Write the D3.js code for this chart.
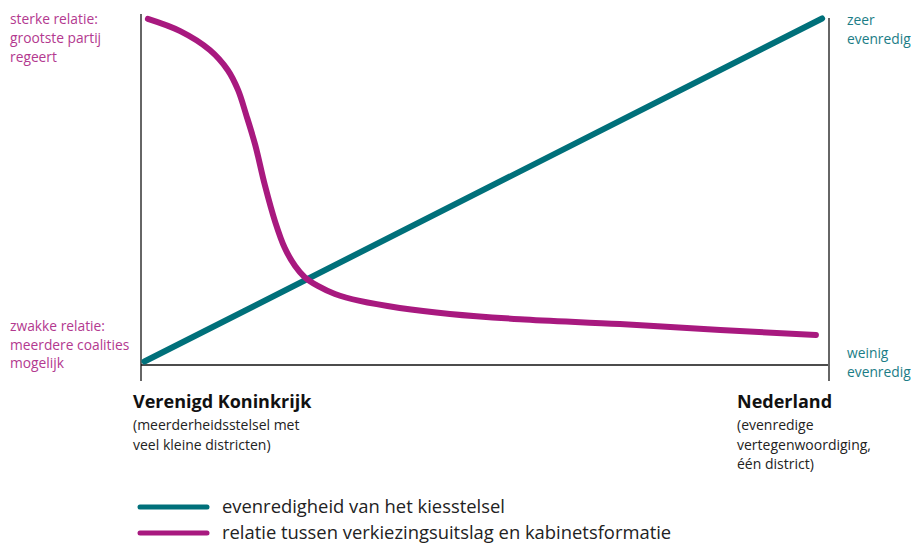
<!DOCTYPE html>
<html>
<head>
<meta charset="utf-8">
<script src="https://cdn.jsdelivr.net/npm/d3@7"></script>
<style>
  body { margin: 0; background: #fff; }
  text { font-family: "Open Sans", "Noto Sans", sans-serif; }
</style>
</head>
<body>
<div id="chart"></div>
<script>
// --- Data ---
const tealPoints = [[0.5, 1], [99, 99]];
const magentaX = [1, 5.7, 10.0, 12.6, 14.1, 15.3, 16.6, 18.0, 19.5, 20.9, 22.4, 23.8, 25.7, 28.2, 31.8, 37.6, 44.9, 55.1, 69.6, 84.2, 98.1];
const magentaY = [98.9, 95.4, 90.0, 84.3, 78.6, 71.4, 62.9, 51.4, 40.9, 33.4, 28.3, 25.1, 22.6, 20.3, 18.3, 16.3, 14.6, 13.1, 11.7, 10.0, 8.6];
const leftTop = ["sterke relatie:", "grootste partij", "regeert"];
const leftBottom = ["zwakke relatie:", "meerdere coalities", "mogelijk"];
const rightTop = ["zeer", "evenredig"];
const rightBottom = ["weinig", "evenredig"];
const ukTitle = "Verenigd Koninkrijk";
const ukSub = ["(meerderheidsstelsel met", "veel kleine districten)"];
const nlTitle = "Nederland";
const nlSub = ["(evenredige", "vertegenwoordiging,", "één district)"];
const legendLabels = ["evenredigheid van het kiesstelsel", "relatie tussen verkiezingsuitslag en kabinetsformatie"];

const TEAL = "#00707a", MAGENTA = "#a8197f";
const LABEL_MAG = "#b3398f", LABEL_TEAL = "#1b7d86";

const width = 914, height = 544;
const svg = d3.select("#chart").append("svg")
  .attr("width", width).attr("height", height);

const x = d3.scaleLinear().domain([0, 100]).range([141, 829]);
const y = d3.scaleLinear().domain([0, 100]).range([365, 15]);

// axes (plain lines)
svg.append("line")
  .attr("x1", x(0)).attr("x2", x(0))
  .attr("y1", 14).attr("y2", 381)
  .attr("stroke", "#333").attr("stroke-width", 1.5);
svg.append("line")
  .attr("x1", x(0)).attr("x2", x(100))
  .attr("y1", y(0)).attr("y2", y(0))
  .attr("stroke", "#111").attr("stroke-width", 1.5);
svg.append("line")
  .attr("x1", x(100)).attr("x2", x(100))
  .attr("y1", 18).attr("y2", 381)
  .attr("stroke", "#666").attr("stroke-width", 2);

const line = d3.line()
  .x(d => x(d[0]))
  .y(d => y(d[1]));

svg.append("path")
  .datum(tealPoints)
  .attr("fill", "none")
  .attr("stroke", TEAL)
  .attr("stroke-width", 6)
  .attr("stroke-linecap", "round")
  .attr("d", line);

const magentaData = magentaX.map((v, i) => [v, magentaY[i]]);
svg.append("path")
  .datum(magentaData)
  .attr("fill", "none")
  .attr("stroke", MAGENTA)
  .attr("stroke-width", 6)
  .attr("stroke-linecap", "round")
  .attr("d", line.curve(d3.curveCatmullRom.alpha(0.5)));

// multi-line labels
function label(lines, x0, y0, lh, size, color, weight) {
  const t = svg.append("text")
    .attr("x", x0).attr("y", y0)
    .attr("font-size", size)
    .attr("fill", color)
    .attr("font-weight", weight || "normal");
  lines.forEach((s, i) => {
    t.append("tspan").attr("x", x0).attr("y", y0 + i * lh).text(s);
  });
}

label(leftTop, 10, 24, 19, 13.8, LABEL_MAG);
label(leftBottom, 10, 331, 18.5, 13.8, LABEL_MAG);
label(rightTop, 847, 25, 19, 13.8, LABEL_TEAL);
label(rightBottom, 847, 358, 18.5, 13.8, LABEL_TEAL);

label([ukTitle], 133, 408, 20, 18, "#111", "bold");
label(ukSub, 133, 430, 19.5, 14, "#222");
label([nlTitle], 737, 408, 20, 18, "#111", "bold");
label(nlSub, 737, 430, 19.5, 14, "#222");

// legend
const legendColors = [TEAL, MAGENTA];
legendLabels.forEach((s, i) => {
  const ly = 507 + i * 26;
  svg.append("line")
    .attr("x1", 140).attr("x2", 207)
    .attr("y1", ly).attr("y2", ly)
    .attr("stroke", legendColors[i])
    .attr("stroke-width", 5)
    .attr("stroke-linecap", "round");
  svg.append("text")
    .attr("x", 222).attr("y", ly + 6)
    .attr("font-size", 18.4)
    .attr("fill", "#222")
    .text(s);
});
</script>
</body>
</html>
